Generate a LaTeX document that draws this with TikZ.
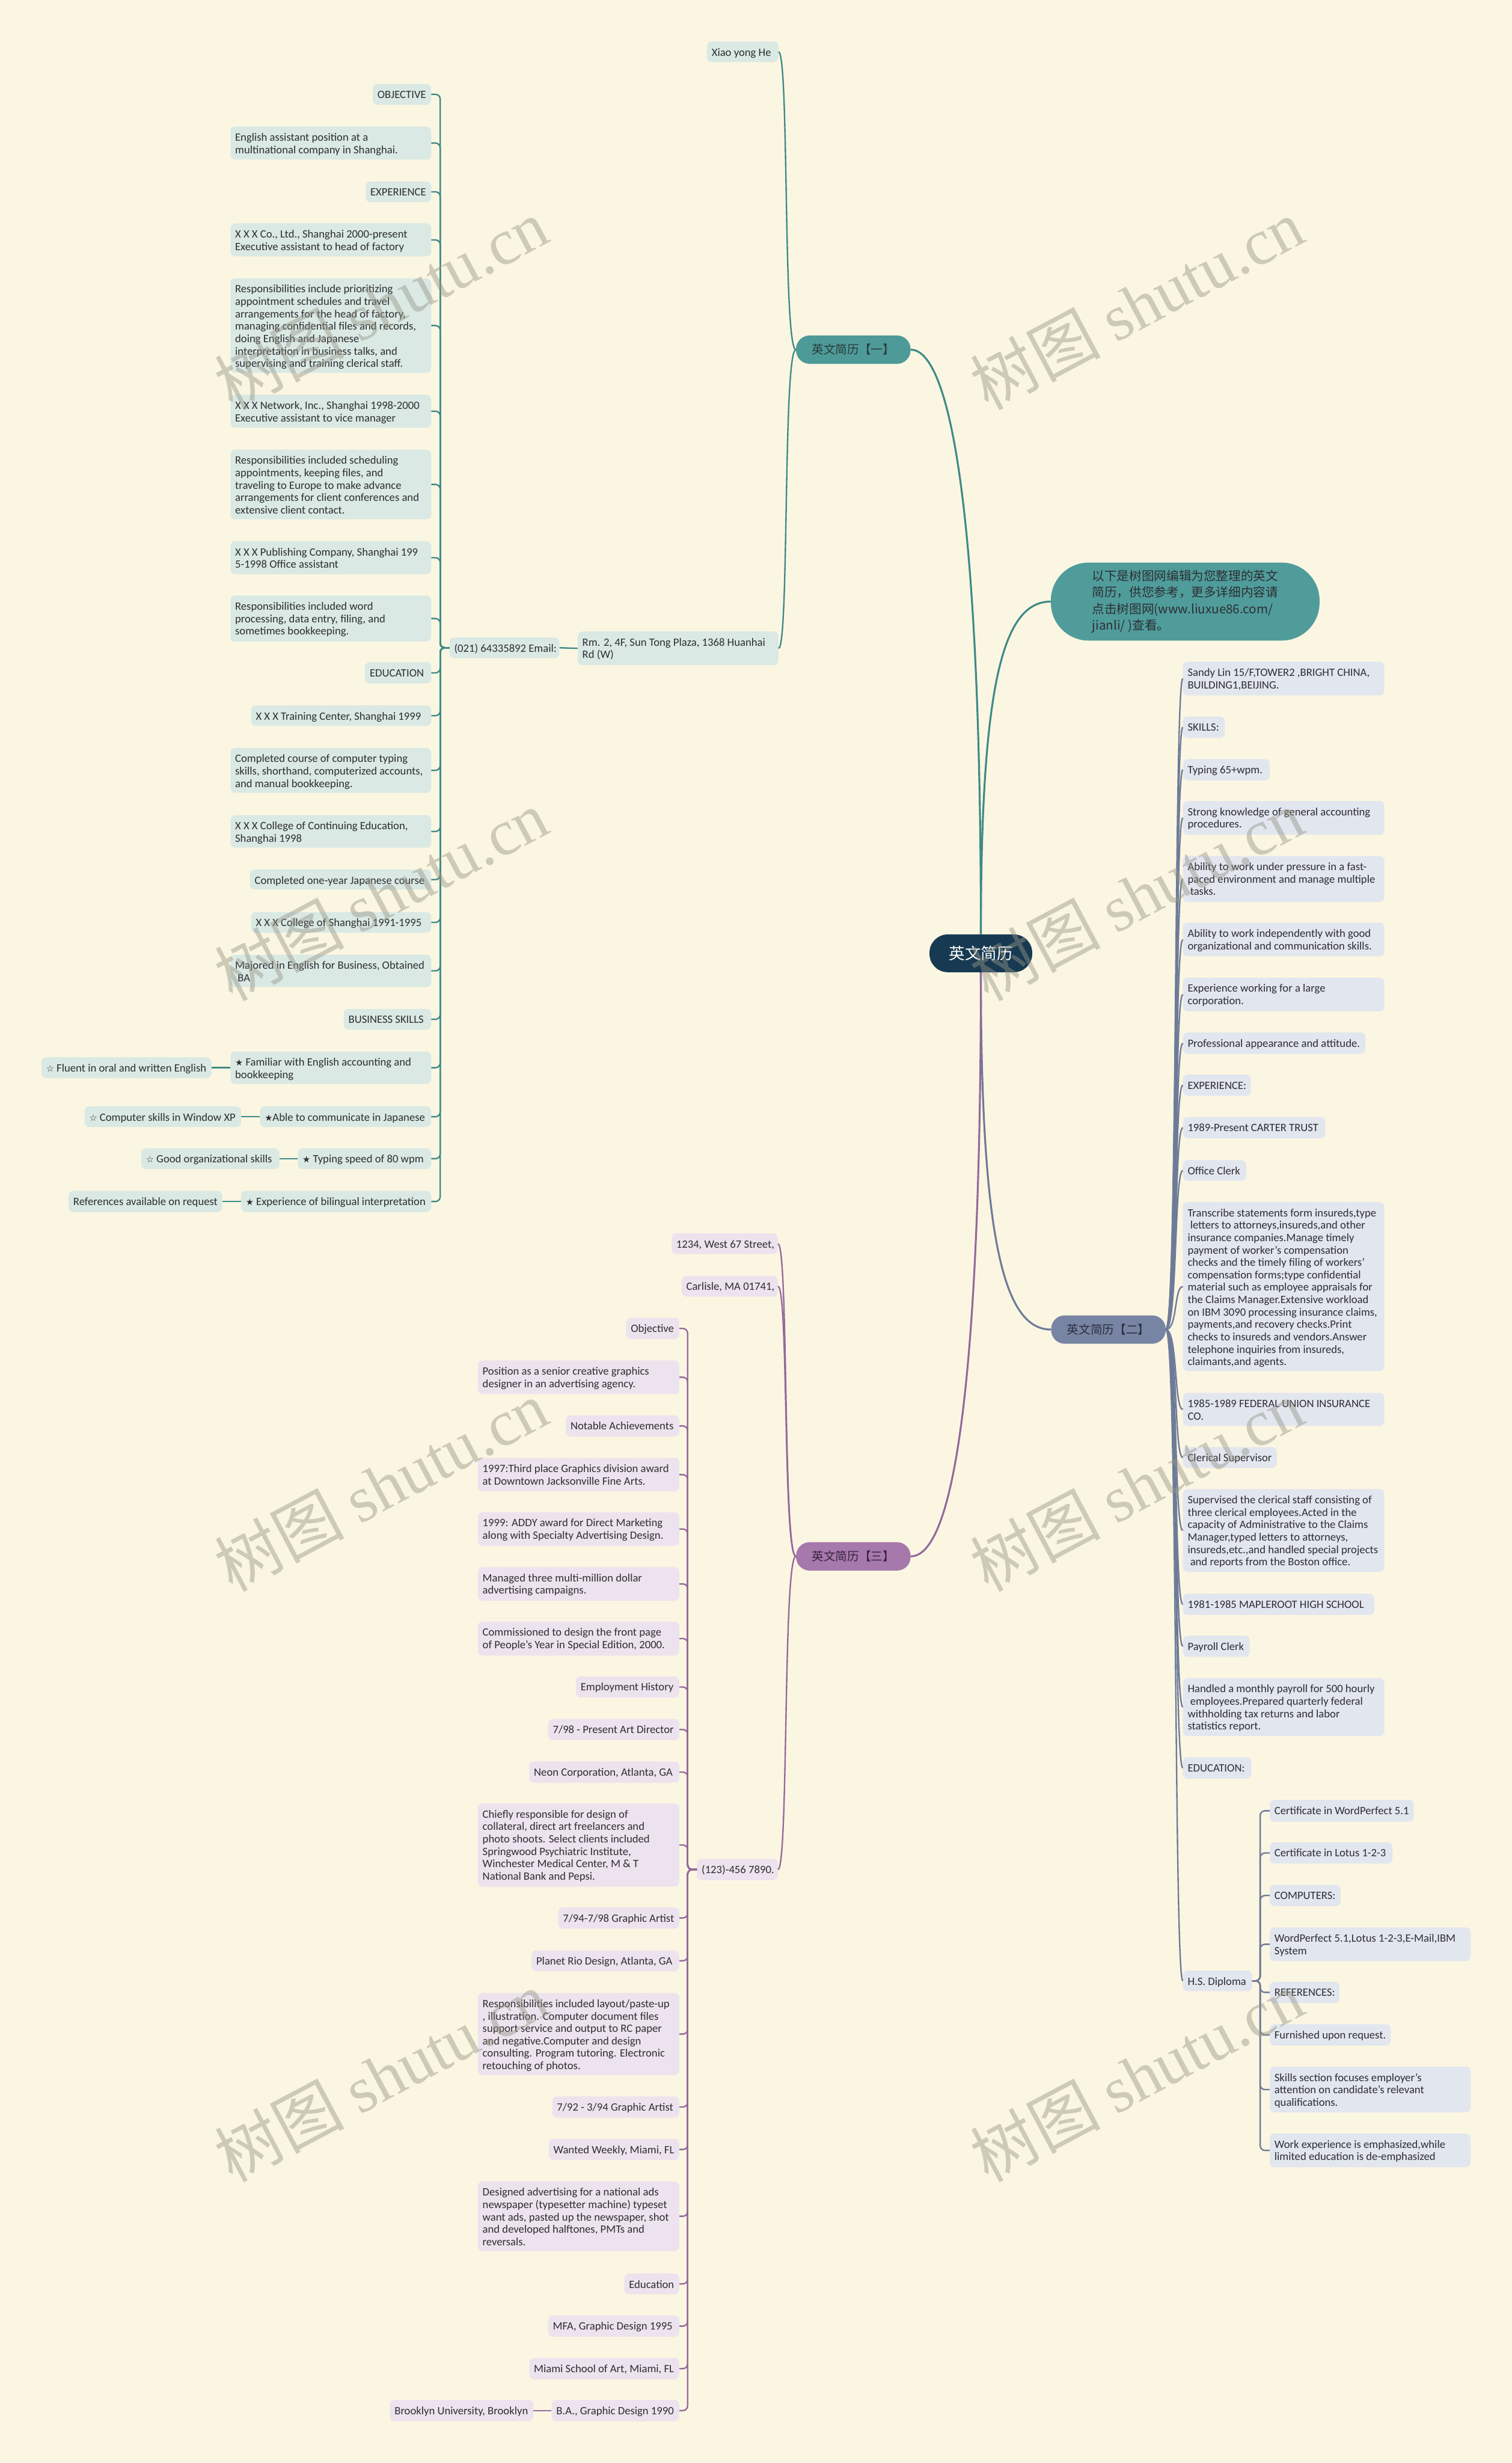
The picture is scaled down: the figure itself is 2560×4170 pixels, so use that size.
\documentclass[tikz,border=0pt]{standalone}
\usepackage{fontspec}
\setmainfont{Carlito}
\newfontfamily\cjk{Noto Sans CJK SC}
\newfontfamily\symf{DejaVu Sans}
\newfontfamily\wmf{Liberation Serif}
\definecolor{bg}{RGB}{251,246,226}
\definecolor{f1}{RGB}{218,233,228}
\definecolor{f2}{RGB}{226,230,239}
\definecolor{f3}{RGB}{237,227,238}
\definecolor{c1}{RGB}{62,138,135}
\definecolor{c2}{RGB}{110,123,152}
\definecolor{c3}{RGB}{148,105,155}
\definecolor{bf1}{RGB}{78,154,152}
\definecolor{bf2}{RGB}{120,132,163}
\definecolor{bf3}{RGB}{166,120,171}
\definecolor{cn}{RGB}{23,58,82}
\definecolor{ib}{RGB}{79,156,155}
\definecolor{tx}{RGB}{46,46,50}
\definecolor{wm}{RGB}{150,150,135}
\newcommand\bs{{\symf\fontsize{15}{15}\selectfont ★}}
\newcommand\ws{{\symf\fontsize{15}{15}\selectfont ☆}}
\newcommand\mybox[7]{%
  \pgfmathsetmacro\bxw{#5-#3}%
  \pgfmathsetmacro\bxh{#6-#4}%
  \node[leaf,#1,minimum width=\bxw pt,minimum height=\bxh pt,anchor=north west] (#2) at (#3,#4) {};%
  \node[ltx,anchor=north west] (#2t) at ([xshift=8pt,yshift=-9.8pt]#2.north west) {\strut#7};%
}
\begin{document}
\begin{tikzpicture}[x=1pt,y=-1pt,
  leaf/.style={rounded corners=8pt,inner sep=0pt,draw=none},
  L1/.style={fill=f1}, L2/.style={fill=f2}, L3/.style={fill=f3},
  ltx/.style={inner sep=0pt,align=left,font=\fontsize{19}{21}\selectfont,text=tx},
  ln1/.style={draw=c1,line width=2.4pt,rounded corners=8pt},
  ln2/.style={draw=c2,line width=2.4pt},
  ln2r/.style={draw=c2,line width=2.4pt,rounded corners=8pt},
  ln3/.style={draw=c3,line width=2.4pt,rounded corners=8pt},
  mn1/.style={draw=c1,line width=3.2pt},
  mn2/.style={draw=c2,line width=3.2pt},
  mn3/.style={draw=c3,line width=3.2pt},
  brn/.style={rounded corners=23pt,minimum width=194pt,minimum height=48pt,inner sep=0pt,font=\cjk\fontsize{20}{24}\selectfont},
  ctrs/.style={fill=cn,text=white,rounded corners=31pt,minimum width=174pt,minimum height=64pt,inner sep=0pt,font=\cjk\fontsize{27}{30}\selectfont},
  wmk/.style={rotate=28,text=wm,opacity=0.45,inner sep=0pt,font=\fontsize{110}{120}\selectfont}
]
\useasboundingbox (0,0) rectangle (2560,4170);
\fill[bg] (0,0) rectangle (2560,4170);

% ---------- central, intro, branches
\node[ctrs] (ctr) at (1661,1614) {英文简历};
\node[fill=ib,rounded corners=64pt,minimum width=455pt,minimum height=132pt,inner sep=0pt,align=left,font=\cjk\fontsize{21}{28}\selectfont,text=tx] (intro) at (2007,1018.5)
 {以下是树图网编辑为您整理的英文\\简历，供您参考，更多详细内容请\\点击树图网(www.liuxue86.com/\\jianli/ )查看。};
\node[brn,fill=bf1,text={rgb,255:red,40;green,58;blue,58}] (b1) at (1445,592) {英文简历【一】};
\node[brn,fill=bf2,text={rgb,255:red,42;green,46;blue,62}] (b2) at (1877,2251) {英文简历【二】};
\node[brn,fill=bf3,text={rgb,255:red,56;green,36;blue,62}] (b3) at (1445,2635) {英文简历【三】};

% ---------- branch 1
\mybox{L1}{xiao}{1197}{70}{1318}{105}{Xiao yong He}
\mybox{L1}{rm}{978}{1069}{1318}{1126}{Rm. 2, 4F, Sun Tong Plaza, 1368 Huanhai\\Rd (W)}
\mybox{L1}{ph1}{761}{1079}{947}{1114}{(021) 64335892 Email:}
\mybox{L1}{a01}{631}{142}{730}{177}{OBJECTIVE}
\mybox{L1}{a02}{390}{214}{730}{270}{English assistant position at a\\multinational company in Shanghai.}
\mybox{L1}{a03}{619}{307}{730}{342}{EXPERIENCE}
\mybox{L1}{a04}{390}{378}{730}{434}{X X X Co., Ltd., Shanghai 2000-present\\Executive assistant to head of factory}
\mybox{L1}{a05}{390}{471}{730}{631}{Responsibilities include prioritizing\\appointment schedules and travel\\arrangements for the head of factory,\\managing confidential files and records,\\doing English and Japanese\\interpretation in business talks, and\\supervising and training clerical staff.}
\mybox{L1}{a06}{390}{668}{730}{724}{X X X Network, Inc., Shanghai 1998-2000\\Executive assistant to vice manager}
\mybox{L1}{a07}{390}{761}{730}{879}{Responsibilities included scheduling\\appointments, keeping files, and\\traveling to Europe to make advance\\arrangements for client conferences and\\extensive client contact.}
\mybox{L1}{a08}{390}{916}{730}{972}{X X X Publishing Company, Shanghai 199\\5-1998 Office assistant}
\mybox{L1}{a09}{390}{1008}{730}{1086}{Responsibilities included word\\processing, data entry, filing, and\\sometimes bookkeeping.}
\mybox{L1}{a10}{618}{1121}{730}{1157}{EDUCATION}
\mybox{L1}{a11}{425}{1194}{730}{1229}{X X X Training Center, Shanghai 1999}
\mybox{L1}{a12}{390}{1266}{730}{1342}{Completed course of computer typing\\skills, shorthand, computerized accounts,\\and manual bookkeeping.}
\mybox{L1}{a13}{390}{1380}{730}{1435}{X X X College of Continuing Education,\\Shanghai 1998}
\mybox{L1}{a14}{423}{1472}{730}{1506}{Completed one-year Japanese course}
\mybox{L1}{a15}{425}{1544}{730}{1579}{X X X College of Shanghai 1991-1995}
\mybox{L1}{a16}{390}{1616}{730}{1671}{Majored in English for Business, Obtained\\\ BA}
\mybox{L1}{a17}{582}{1708}{730}{1743}{BUSINESS SKILLS}
\mybox{L1}{a18}{390}{1780}{730}{1835}{\bs\ Familiar with English accounting and\\bookkeeping}
\mybox{L1}{a19}{440}{1873}{730}{1908}{\bs Able to communicate in Japanese}
\mybox{L1}{a20}{504}{1944}{730}{1979}{\bs\ Typing speed of 80 wpm}
\mybox{L1}{a21}{408}{2016}{730}{2052}{\bs\ Experience of bilingual interpretation}
\mybox{L1}{s18}{70}{1790}{358}{1825}{\ws\ Fluent in oral and written English}
\mybox{L1}{s19}{143}{1873}{408}{1908}{\ws\ Computer skills in Window XP}
\mybox{L1}{s20}{239}{1944}{473}{1979}{\ws\ Good organizational skills}
\mybox{L1}{s21}{116}{2016}{376}{2052}{References available on request}

% ---------- branch 2
\mybox{L2}{r01}{2003}{1120}{2344}{1177}{Sandy Lin 15/F,TOWER2 ,BRIGHT CHINA,\\BUILDING1,BEIJING.}
\mybox{L2}{r02}{2003}{1213}{2074}{1249}{SKILLS:}
\mybox{L2}{r03}{2003}{1285}{2150}{1321}{Typing 65+wpm.}
\mybox{L2}{r04}{2003}{1356}{2344}{1413}{Strong knowledge of general accounting\\procedures.}
\mybox{L2}{r05}{2003}{1449}{2344}{1527}{Ability to work under pressure in a fast-\\paced environment and manage multiple\\\ tasks.}
\mybox{L2}{r06}{2003}{1562}{2344}{1619}{Ability to work independently with good\\organizational and communication skills.}
\mybox{L2}{r07}{2003}{1655}{2344}{1712}{Experience working for a large\\corporation.}
\mybox{L2}{r08}{2003}{1748}{2312}{1784}{Professional appearance and attitude.}
\mybox{L2}{r09}{2003}{1819}{2118}{1855}{EXPERIENCE:}
\mybox{L2}{r10}{2003}{1891}{2244}{1927}{1989-Present CARTER TRUST}
\mybox{L2}{r11}{2003}{1964}{2110}{1999}{Office Clerk}
\mybox{L2}{r12}{2003}{2035}{2344}{2321}{Transcribe statements form insureds,type\\\ letters to attorneys,insureds,and other\\insurance companies.Manage timely\\payment of worker's compensation\\checks and the timely filing of workers'\\compensation forms;type confidential\\material such as employee appraisals for\\the Claims Manager.Extensive workload\\on IBM 3090 processing insurance claims,\\payments,and recovery checks.Print\\checks to insureds and vendors.Answer\\telephone inquiries from insureds,\\claimants,and agents.}
\mybox{L2}{r13}{2003}{2358}{2344}{2414}{1985-1989 FEDERAL UNION INSURANCE\\CO.}
\mybox{L2}{r14}{2003}{2450}{2162}{2485}{Clerical Supervisor}
\mybox{L2}{r15}{2003}{2521}{2344}{2661}{Supervised the clerical staff consisting of\\three clerical employees.Acted in the\\capacity of Administrative to the Claims\\Manager,typed letters to attorneys,\\insureds,etc.,and handled special projects\\\ and reports from the Boston office.}
\mybox{L2}{r16}{2003}{2698}{2327}{2734}{1981-1985 MAPLEROOT HIGH SCHOOL}
\mybox{L2}{r17}{2003}{2769}{2116}{2805}{Payroll Clerk}
\mybox{L2}{r18}{2003}{2841}{2344}{2939}{Handled a monthly payroll for 500 hourly\\\ employees.Prepared quarterly federal\\withholding tax returns and labor\\statistics report.}
\mybox{L2}{r19}{2003}{2975}{2119}{3011}{EDUCATION:}
\mybox{L2}{r20}{2003}{3336}{2120}{3371}{H.S. Diploma}
\mybox{L2}{h1}{2150}{3047}{2394}{3084}{Certificate in WordPerfect 5.1}
\mybox{L2}{h2}{2150}{3119}{2358}{3155}{Certificate in Lotus 1-2-3}
\mybox{L2}{h3}{2150}{3191}{2270}{3227}{COMPUTERS:}
\mybox{L2}{h4}{2150}{3263}{2490}{3320}{WordPerfect 5.1,Lotus 1-2-3,E-Mail,IBM\\System}
\mybox{L2}{h5}{2150}{3355}{2268}{3391}{REFERENCES:}
\mybox{L2}{h6}{2150}{3427}{2355}{3463}{Furnished upon request.}
\mybox{L2}{h7}{2150}{3499}{2490}{3576}{Skills section focuses employer's\\attention on candidate's relevant\\qualifications.}
\mybox{L2}{h8}{2150}{3612}{2490}{3669}{Work experience is emphasized,while\\limited education is de-emphasized}

% ---------- branch 3
\mybox{L3}{cw}{1137}{2088}{1317}{2123}{1234, West 67 Street,}
\mybox{L3}{cc}{1154}{2160}{1317}{2195}{Carlisle, MA 01741,}
\mybox{L3}{ph3}{1180}{3147}{1317}{3183}{(123)-456 7890.}
\mybox{L3}{d01}{1060}{2231}{1150}{2267}{Objective}
\mybox{L3}{d02}{809}{2303}{1150}{2360}{Position as a senior creative graphics\\designer in an advertising agency.}
\mybox{L3}{d03}{958}{2396}{1150}{2432}{Notable Achievements}
\mybox{L3}{d04}{809}{2468}{1150}{2525}{1997:Third place Graphics division award\\at Downtown Jacksonville Fine Arts.}
\mybox{L3}{d05}{809}{2560}{1150}{2617}{1999: ADDY award for Direct Marketing\\along with Specialty Advertising Design.}
\mybox{L3}{d06}{809}{2653}{1150}{2710}{Managed three multi-million dollar\\advertising campaigns.}
\mybox{L3}{d07}{809}{2745}{1150}{2803}{Commissioned to design the front page\\of People's Year in Special Edition, 2000.}
\mybox{L3}{d08}{975}{2838}{1150}{2874}{Employment History}
\mybox{L3}{d09}{928}{2910}{1150}{2946}{7/98 - Present Art Director}
\mybox{L3}{d10}{896}{2982}{1150}{3018}{Neon Corporation, Atlanta, GA}
\mybox{L3}{d11}{809}{3053}{1150}{3194}{Chiefly responsible for design of\\collateral, direct art freelancers and\\photo shoots. Select clients included\\Springwood Psychiatric Institute,\\Winchester Medical Center, M \& T\\National Bank and Pepsi.}
\mybox{L3}{d12}{945}{3229}{1150}{3265}{7/94-7/98 Graphic Artist}
\mybox{L3}{d13}{900}{3302}{1150}{3337}{Planet Rio Design, Atlanta, GA}
\mybox{L3}{d14}{809}{3374}{1150}{3513}{Responsibilities included layout/paste-up\\, illustration. Computer document files\\support service and output to RC paper\\and negative.Computer and design\\consulting. Program tutoring. Electronic\\retouching of photos.}
\mybox{L3}{d15}{935}{3549}{1150}{3585}{7/92 - 3/94 Graphic Artist}
\mybox{L3}{d16}{929}{3621}{1150}{3657}{Wanted Weekly, Miami, FL}
\mybox{L3}{d17}{809}{3693}{1150}{3811}{Designed advertising for a national ads\\newspaper (typesetter machine) typeset\\want ads, pasted up the newspaper, shot\\and developed halftones, PMTs and\\reversals.}
\mybox{L3}{d18}{1057}{3849}{1150}{3884}{Education}
\mybox{L3}{d19}{928}{3920}{1150}{3956}{MFA, Graphic Design 1995}
\mybox{L3}{d20}{896}{3992}{1150}{4028}{Miami School of Art, Miami, FL}
\mybox{L3}{d21}{934}{4063}{1150}{4099}{B.A., Graphic Design 1990}
\mybox{L3}{s3}{660}{4063}{903}{4099}{Brooklyn University, Brooklyn}

% ---------- main connectors
\draw[mn1] (ctr.north) .. controls (1661,800) and (1600,592) .. (b1.east);
\draw[mn1] (ctr.north) .. controls (1661,1150) and (1700,1018.5) .. (intro.west);
\draw[mn2] (ctr.south) .. controls (1661,2100) and (1700,2251) .. (b2.west);
\draw[mn3] (ctr.south) .. controls (1661,2450) and (1600,2635) .. (b3.east);

% ---------- branch 1 connectors
\foreach \n in {xiao,rm}
  \draw[ln1] (b1.west) .. controls +(-22,0) and +(18,0) .. (\n.east);
\draw[ln1] (rm.west) -- (ph1.east);
\foreach \n in {a01,a02,a03,a04,a05,a06,a07,a08,a09,a10,a11,a12,a13,a14,a15,a16,a17,a18,a19,a20,a21}
  \draw[ln1] (ph1.west) -| ([xshift=15pt]\n.east) -- (\n.east);
\foreach \p/\q in {a18/s18,a19/s19,a20/s20,a21/s21}
  \draw[ln1] (\p.west) -- (\q.east);

% ---------- branch 2 connectors
\foreach \n in {r01,r02,r03,r04,r05,r06,r07,r08,r09,r10,r11,r12,r13,r14,r15,r16,r17,r18,r19,r20}
  \draw[ln2] (b2.east) .. controls +(20,0) and +(-15,0) .. (\n.west);
\foreach \n in {h1,h2,h3,h4,h5,h6,h7,h8}
  \draw[ln2r] (r20.east) -| ([xshift=-16pt]\n.west) -- (\n.west);

% ---------- branch 3 connectors
\foreach \n in {cw,cc,ph3}
  \draw[ln3] (b3.west) .. controls +(-22,0) and +(18,0) .. (\n.east);
\foreach \n in {d01,d02,d03,d04,d05,d06,d07,d08,d09,d10,d11,d12,d13,d14,d15,d16,d17,d18,d19,d20,d21}
  \draw[ln3] (ph3.west) -| ([xshift=14pt]\n.east) -- (\n.east);
\draw[ln3] (d21.west) -- (s3.east);

% ---------- watermarks
\foreach \i/\wx/\wy in {1/645/515,2/1925/515,3/645/1515,4/1925/1515,5/645/2515,6/1925/2515,7/645/3515,8/1925/3515}
  \node[wmk] (wm\i) at (\wx,\wy) {{\cjk 树图} {\wmf shutu.cn}};
\end{tikzpicture}
\end{document}
